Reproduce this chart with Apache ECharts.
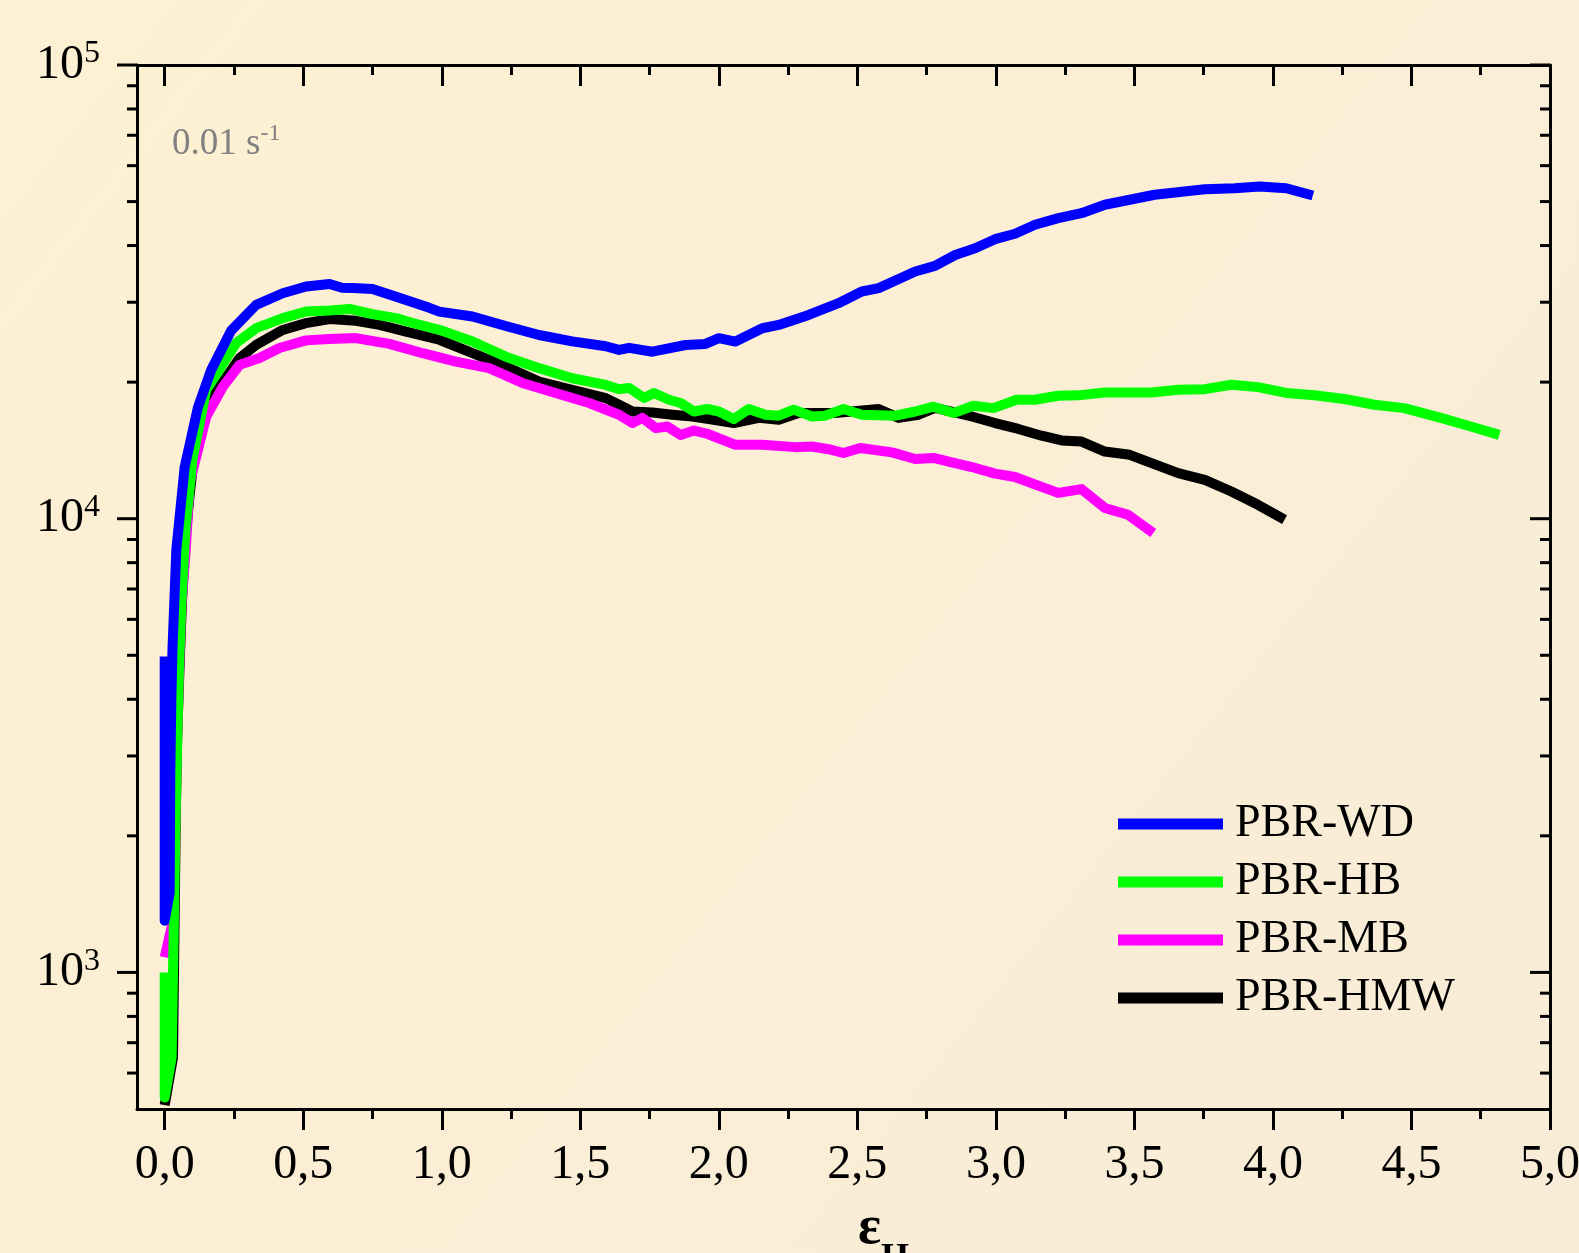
<!DOCTYPE html>
<html>
<head>
<meta charset="utf-8">
<script src="https://cdn.jsdelivr.net/npm/echarts@6/dist/echarts.min.js"></script>
<style>
  html, body { margin: 0; padding: 0; background: #fcefd5; }
  #chart { width: 1579px; height: 1253px; }
</style>
</head>
<body>
<div id="chart"></div>
<script>
// strain / stress pairs
const wdData = [
  [0, 4970], [0, 1300], [0.018, 1500], [0.02, 2700], [0.024, 4000], [0.028, 5150], [0.042, 8550],
  [0.072, 13000], [0.12, 17600], [0.168, 21300], [0.24, 26000], [0.33, 29600], [0.426, 31400],
  [0.51, 32500], [0.595, 32900], [0.64, 32300], [0.679, 32250], [0.75, 32100], [0.871, 30350],
  [0.955, 29160], [0.991, 28600], [1.111, 27900], [1.231, 26600], [1.351, 25400], [1.471, 24600],
  [1.592, 24000], [1.64, 23550], [1.676, 23800], [1.76, 23340], [1.88, 24150], [1.952, 24280],
  [2.0, 25000], [2.06, 24570], [2.157, 26290], [2.216, 26740], [2.324, 28130], [2.432, 29860],
  [2.516, 31680], [2.577, 32230], [2.709, 35070], [2.78, 36080], [2.853, 38130], [2.925, 39450],
  [2.997, 41310], [3.069, 42460], [3.141, 44450], [3.225, 45960], [3.309, 47140], [3.393, 49200],
  [3.573, 51770], [3.754, 53250], [3.862, 53500], [3.952, 53950], [4.048, 53500], [4.144, 51560]
];
const hbData = [
  [0, 1000], [0, 530], [0.025, 650], [0.03, 1000], [0.038, 2000], [0.045, 3200], [0.052, 4800],
  [0.06, 6500], [0.075, 9500], [0.1, 13500], [0.15, 19230], [0.258, 24380], [0.33, 26300],
  [0.426, 27680], [0.51, 28630], [0.595, 28780], [0.667, 28990], [0.75, 28250], [0.835, 27680],
  [0.895, 27000], [0.991, 26080], [1.111, 24580], [1.231, 22760], [1.351, 21470], [1.471, 20400],
  [1.592, 19720], [1.64, 19300], [1.676, 19420], [1.73, 18460], [1.766, 18930], [1.82, 18290],
  [1.862, 17990], [1.91, 17230], [1.958, 17450], [2.0, 17230], [2.054, 16580], [2.108, 17450],
  [2.168, 16950], [2.216, 16870], [2.27, 17390], [2.336, 16800], [2.384, 16870], [2.45, 17450],
  [2.516, 16950], [2.637, 16870], [2.709, 17230], [2.775, 17660], [2.847, 17100], [2.919, 17740],
  [2.991, 17530], [3.075, 18290], [3.141, 18290], [3.225, 18660], [3.297, 18700], [3.393, 18980],
  [3.561, 18980], [3.658, 19240], [3.754, 19300], [3.85, 19730], [3.946, 19500], [4.048, 18930],
  [4.15, 18710], [4.258, 18360], [4.366, 17830], [4.474, 17530], [4.606, 16680], [4.714, 15970],
  [4.817, 15300]
];
const mbData = [
  [0, 1080], [0.03, 1300], [0.04, 2500], [0.047, 3700], [0.054, 5150], [0.06, 6400], [0.076, 8550],
  [0.09, 11990], [0.15, 16790], [0.21, 19540], [0.27, 21830], [0.342, 22600], [0.414, 23780],
  [0.51, 24720], [0.595, 24900], [0.69, 25010], [0.811, 24280], [0.931, 23160], [1.051, 22200],
  [1.171, 21470], [1.291, 19920], [1.411, 18930], [1.532, 17990], [1.64, 16950], [1.688, 16250],
  [1.724, 16680], [1.772, 15840], [1.814, 15970], [1.862, 15300], [1.91, 15640], [1.958, 15390],
  [2.06, 14550], [2.157, 14550], [2.276, 14380], [2.336, 14430], [2.396, 14230], [2.45, 13960],
  [2.511, 14320], [2.625, 14000], [2.709, 13540], [2.775, 13610], [2.841, 13310], [2.913, 13000],
  [2.997, 12570], [3.069, 12360], [3.153, 11830], [3.225, 11400], [3.309, 11620], [3.393, 10560],
  [3.477, 10200], [3.568, 9300]
];
const hmwData = [
  [0, 510], [0.03, 650], [0.035, 1200], [0.04, 2200], [0.045, 3300], [0.055, 5000], [0.062, 6500],
  [0.075, 9000], [0.088, 11000], [0.1, 12800], [0.15, 17660], [0.27, 22600], [0.33, 24170],
  [0.426, 26060], [0.51, 26980], [0.595, 27540], [0.69, 27300], [0.775, 26740], [0.871, 25850],
  [0.991, 24800], [1.111, 23160], [1.231, 21650], [1.351, 20060], [1.471, 19240], [1.592, 18440],
  [1.64, 17830], [1.688, 17230], [1.76, 17140], [1.832, 16950], [1.904, 16800], [1.964, 16580],
  [2.054, 16250], [2.144, 16680], [2.216, 16520], [2.288, 17100], [2.42, 17100], [2.577, 17450],
  [2.649, 16680], [2.721, 16950], [2.781, 17540], [2.913, 16800], [2.997, 16250], [3.081, 15770],
  [3.165, 15240], [3.237, 14880], [3.309, 14790], [3.393, 14060], [3.483, 13830], [3.658, 12600],
  [3.754, 12180], [3.85, 11480], [3.946, 10730], [4.042, 9950]
];

const seriesNames = ['PBR-WD', 'PBR-HB', 'PBR-MB', 'PBR-HMW'];
const seriesColors = ['#0000ff', '#00ff00', '#ff00ff', '#000000'];

const xMin = -0.1, xMax = 5.0;
const yMin = 500, yMax = 100000;
const xMajorTicks = [0, 0.5, 1.0, 1.5, 2.0, 2.5, 3.0, 3.5, 4.0, 4.5, 5.0];
const xMinorTicks = [0.25, 0.75, 1.25, 1.75, 2.25, 2.75, 3.25, 3.75, 4.25, 4.75];
const yMajorTicks = [1000, 10000, 100000];
const yMinorTicks = [600, 700, 800, 900, 2000, 3000, 4000, 5000, 6000, 7000, 8000, 9000,
  20000, 30000, 40000, 50000, 60000, 70000, 80000, 90000];

const FONT = 'Liberation Serif';
const chart = echarts.init(document.getElementById('chart'));

const gridRect = { left: 137, right: 29, top: 65, bottom: 144, containLabel: false, outerBoundsMode: 'none' };
const axisLine = { show: true, onZero: false, lineStyle: { color: '#000', width: 3 } };
const noLine = { show: false, onZero: false };

function lineSeries(name, data, color) {
  return {
    name: name, type: 'line', data: data,
    xAxisIndex: 0, yAxisIndex: 0,
    showSymbol: false, symbol: 'none',
    lineStyle: { color: color, width: 10, join: 'round' },
    itemStyle: { color: color },
    animation: false
  };
}

const yTickData = yMajorTicks.map(v => [xMin, v, 1]).concat(yMinorTicks.map(v => [xMin, v, 0]));

const option = {
  backgroundColor: new echarts.graphic.LinearGradient(0, 0, 1, 1, [
    { offset: 0, color: '#fef0d2' },
    { offset: 1, color: '#f8ecd8' }
  ]),
  animation: false,
  title: {
    text: '0.01 s{sup|-1}',
    left: 172, top: 122, padding: 0,
    textStyle: {
      fontFamily: FONT, fontSize: 37, fontWeight: 'normal', color: '#808080',
      rich: { sup: { fontFamily: FONT, fontSize: 24, color: '#808080', padding: [0, 0, 20, 0] } }
    }
  },
  legend: {
    data: seriesNames,
    orient: 'vertical',
    left: 1118, top: 799, padding: 0,
    icon: 'rect',
    itemWidth: 105, itemHeight: 11, itemGap: 8,
    selectedMode: false,
    textStyle: { fontFamily: FONT, fontSize: 46, color: '#000', lineHeight: 50, padding: [0, 0, 0, 7] }
  },
  grid: [
    Object.assign({}, gridRect),
    Object.assign({}, gridRect)
  ],
  xAxis: [
    {
      type: 'value', gridIndex: 0, position: 'bottom', min: xMin, max: xMax,
      axisLine: axisLine, splitLine: { show: false },
      axisTick: { show: true, inside: false, length: 21, lineStyle: { width: 3, color: '#000' }, customValues: xMajorTicks },
      axisLabel: {
        margin: 32, fontFamily: FONT, fontSize: 48, color: '#000', customValues: xMajorTicks,
        formatter: v => v.toFixed(1).replace('.', ',')
      },
      name: 'ε{sub|H}', nameLocation: 'middle', nameGap: 72,
      nameTextStyle: {
        fontFamily: FONT, fontSize: 54, fontWeight: 'bold', color: '#000', padding: [0, 0, 0, 80],
        rich: { sub: { fontFamily: FONT, fontSize: 36, fontWeight: 'bold', color: '#000', padding: [60, 0, 0, 0] } }
      }
    },
    {
      type: 'value', gridIndex: 0, position: 'top', min: xMin, max: xMax,
      axisLine: axisLine, splitLine: { show: false },
      axisTick: { show: true, inside: true, length: 21, lineStyle: { width: 3, color: '#000' }, customValues: xMajorTicks },
      axisLabel: { show: false }
    },
    {
      type: 'value', gridIndex: 1, position: 'bottom', min: xMin, max: xMax,
      axisLine: noLine, splitLine: { show: false },
      axisTick: { show: true, inside: false, length: 10, lineStyle: { width: 3, color: '#000' }, customValues: xMinorTicks },
      axisLabel: { show: false }
    },
    {
      type: 'value', gridIndex: 1, position: 'top', min: xMin, max: xMax,
      axisLine: noLine, splitLine: { show: false },
      axisTick: { show: true, inside: true, length: 10, lineStyle: { width: 3, color: '#000' }, customValues: xMinorTicks },
      axisLabel: { show: false }
    }
  ],
  yAxis: [
    {
      type: 'log', logBase: 10, gridIndex: 0, position: 'left', min: yMin, max: yMax,
      axisLine: axisLine, splitLine: { show: false }, axisTick: { show: false },
      axisLabel: {
        margin: 37, fontFamily: FONT, fontSize: 48, color: '#000',
        formatter: v => {
          const e = Math.round(Math.log10(v));
          if (Math.abs(Math.log10(v) - e) > 1e-6) return '';
          return '10{sup|' + e + '}';
        },
        rich: { sup: { fontFamily: FONT, fontSize: 32, color: '#000', padding: [0, 0, 22, 0] } }
      }
    },
    {
      type: 'log', logBase: 10, gridIndex: 0, position: 'right', min: yMin, max: yMax,
      axisLine: axisLine, splitLine: { show: false }, axisTick: { show: false },
      axisLabel: { show: false }
    },
    {
      type: 'log', logBase: 10, gridIndex: 1, min: yMin, max: yMax, show: false,
      axisLine: noLine
    }
  ],
  series: [
    lineSeries(seriesNames[3], hmwData, seriesColors[3]),
    lineSeries(seriesNames[2], mbData, seriesColors[2]),
    lineSeries(seriesNames[1], hbData, seriesColors[1]),
    lineSeries(seriesNames[0], wdData, seriesColors[0]),
    {
      type: 'custom', xAxisIndex: 0, yAxisIndex: 0, clip: false, silent: true, z: 5,
      data: yTickData,
      renderItem: function (params, api) {
        const v = api.value(1);
        const len = api.value(2) ? 20 : 10;
        const l = api.coord([xMin, v]);
        const r = api.coord([xMax, v]);
        const st = { stroke: '#000', lineWidth: 3 };
        return {
          type: 'group',
          children: [
            { type: 'line', shape: { x1: l[0] - len, y1: l[1], x2: l[0], y2: l[1] }, style: st },
            { type: 'line', shape: { x1: r[0] - len, y1: r[1], x2: r[0], y2: r[1] }, style: st }
          ]
        };
      }
    }
  ]
};

chart.setOption(option);
</script>
</body>
</html>
